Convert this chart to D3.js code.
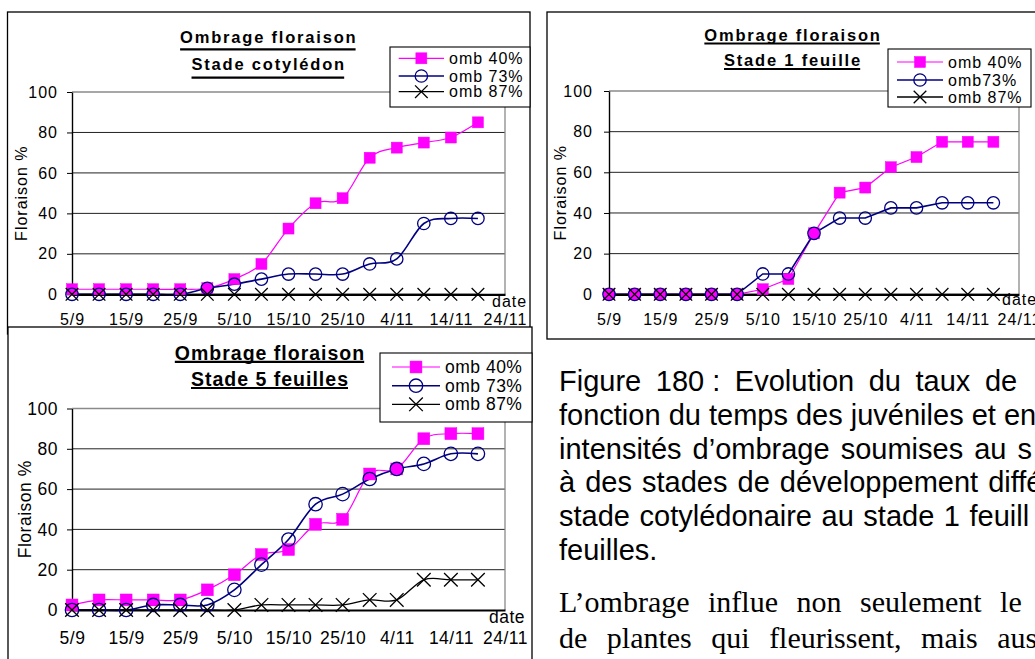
<!DOCTYPE html>
<html>
<head>
<meta charset="utf-8">
<script src="https://cdn.jsdelivr.net/npm/d3@7"></script>
<style>
  html, body { margin: 0; padding: 0; background: #fff; overflow: hidden; }
  svg { display: block; }
  text { font-family: "Liberation Sans", Arial, sans-serif; fill: #000; }
</style>
</head>
<body>
<svg id="fig" width="1035" height="659"></svg>
<script>
// ---- data -------------------------------------------------------------
const sampleDates = ["5/9", "10/9", "15/9", "20/9", "25/9", "30/9", "5/10", "10/10",
                     "15/10", "20/10", "25/10", "30/10", "4/11", "9/11", "14/11", "19/11"];
const axisDates = ["5/9", "15/9", "25/9", "5/10", "15/10", "25/10", "4/11", "14/11", "24/11"];
const yTicks = [0, 20, 40, 60, 80, 100];

// Stade cotylédon
const cotyledonOmb40 = [2.5, 2.5, 2.5, 2.5, 2.5, 3, 7.5, 15, 32.5, 45, 47.5, 67.5, 72.5, 75, 77.5, 85];
const cotyledonOmb73 = [0, 0, 0, 0, 0, 3, 5, 7.5, 10, 10, 10, 15, 17.5, 35, 37.5, 37.5];
const cotyledonOmb87 = [0, 0, 0, 0, 0, 0, 0, 0, 0, 0, 0, 0, 0, 0, 0, 0];

// Stade 1 feuille
const feuille1Omb40 = [0, 0, 0, 0, 0, 0, 2.5, 7.5, 30, 50, 52.5, 62.5, 67.5, 75, 75, 75];
const feuille1Omb73 = [0, 0, 0, 0, 0, 0, 10, 10, 30, 37.5, 37.5, 42.5, 42.5, 45, 45, 45];
const feuille1Omb87 = [0, 0, 0, 0, 0, 0, 0, 0, 0, 0, 0, 0, 0, 0, 0, 0];

// Stade 5 feuilles
const feuilles5Omb40 = [2.5, 5, 5, 5, 5, 10, 17.5, 27.5, 30, 42.5, 45, 67.5, 70, 85, 87.5, 87.5];
const feuilles5Omb73 = [0, 0, 0, 2.5, 2.5, 2.5, 10, 22.5, 35, 52.5, 57.5, 65, 70, 72.5, 77.5, 77.5];
const feuilles5Omb87 = [0, 0, 0, 0, 0, 0, 0, 2.5, 2.5, 2.5, 2.5, 5, 5, 15, 15, 15];

const legendCotyledon = ["omb 40%", "omb 73%", "omb 87%"];
const legendFeuille1 = ["omb 40%", "omb73%", "omb 87%"];
const legendFeuilles5 = ["omb 40%", "omb 73%", "omb 87%"];

const titleCotyledon = ["Ombrage floraison", "Stade cotylédon"];
const titleFeuille1 = ["Ombrage floraison", "Stade 1 feuille"];
const titleFeuilles5 = ["Ombrage floraison", "Stade 5 feuilles"];

const yAxisTitle = "Floraison %";
const xAxisTitle = "date";

const captionLines = [
  "Figure 180\u00a0: Evolution du taux de",
  "fonction du temps des juvéniles et en",
  "intensités d\u2019ombrage soumises au s",
  "à des stades de développement diffé",
  "stade cotylédonaire au stade 1 feuill",
  "feuilles."
];
const paragraphLines = [
  "L\u2019ombrage influe non seulement le",
  "de plantes qui fleurissent, mais auss"
];

// ---- drawing ------------------------------------------------------------
const svg = d3.select("#fig");
const parseDay = d3.timeParse("%d/%m");

const seriesStyle = [
  { color: "#ff00ff", width: 1.2, marker: "square" },
  { color: "#000080", width: 1.6, marker: "circle" },
  { color: "#000000", width: 1.3, marker: "cross" }
];

function drawMarker(sel, type, color, k) {
  if (type === "square") {
    const s = 11 * k;
    sel.append("rect").attr("x", -s / 2).attr("y", -s / 2).attr("width", s).attr("height", s)
      .attr("fill", color).attr("stroke", color).attr("stroke-width", 0.5);
  } else if (type === "circle") {
    sel.append("circle").attr("r", 6.2 * k).attr("fill", "none")
      .attr("stroke", color).attr("stroke-width", 1.3);
  } else {
    const h = 6.3 * k;
    sel.append("path").attr("d", `M${-h},${-h}L${h},${h}M${-h},${h}L${h},${-h}`)
      .attr("stroke", color).attr("stroke-width", 1.3).attr("fill", "none");
  }
}

function drawPanel(p) {
  const g = svg.append("g");
  const font = `${p.font}px`;

  // chart frame
  g.append("rect")
    .attr("x", p.frame[0]).attr("y", p.frame[1]).attr("width", p.frame[2]).attr("height", p.frame[3])
    .attr("fill", "#fff").attr("stroke", "#000").attr("stroke-width", 1.3);

  const x = d3.scaleTime()
    .domain([parseDay(axisDates[0]), parseDay(axisDates[axisDates.length - 1])])
    .range([p.plot.l, p.plot.r]);
  const y = d3.scaleLinear().domain([0, 100]).range([p.plot.b, p.plot.t]);

  // horizontal gridlines
  g.append("g").selectAll("line")
    .data(yTicks.filter(v => v > 0 && v < 100))
    .join("line")
    .attr("x1", p.plot.l).attr("x2", p.plot.r)
    .attr("y1", d => y(d)).attr("y2", d => y(d))
    .attr("stroke", "#222").attr("stroke-width", 1);

  // plot area border (top and right)
  g.append("path")
    .attr("d", `M${p.plot.l},${y(100)}H${p.plot.r}V${y(0)}`)
    .attr("fill", "none").attr("stroke", "#8a8a8a").attr("stroke-width", 1.3);

  // y axis
  const yAxis = g.append("g")
    .attr("transform", `translate(${p.plot.l},0)`)
    .call(d3.axisLeft(y).tickValues(yTicks).tickSize(5).tickSizeOuter(0).tickPadding(p.yPad));
  yAxis.attr("font-size", null).attr("font-family", null);
  yAxis.select(".domain").attr("stroke", "#000").attr("stroke-width", 1.4);
  yAxis.selectAll(".tick line").attr("stroke", "#000").attr("stroke-width", 1);
  yAxis.selectAll(".tick text").style("font-size", font).style("letter-spacing", `${p.ls}px`);

  // x axis
  const xAxis = g.append("g")
    .attr("transform", `translate(0,${y(0)})`)
    .call(d3.axisBottom(x)
      .tickValues(axisDates.map(parseDay))
      .tickFormat((d, i) => axisDates[i])
      .tickSize(0).tickPadding(p.xPad));
  xAxis.attr("font-size", null).attr("font-family", null);
  xAxis.select(".domain").attr("stroke", "#000").attr("stroke-width", 2.2);
  xAxis.selectAll(".tick text").style("font-size", font).style("letter-spacing", `${p.ls}px`);

  // series lines then markers
  const curve = p.smooth ? d3.curveCardinal.tension(0) : d3.curveLinear;
  const line = d3.line()
    .x((d, i) => x(parseDay(sampleDates[i])))
    .y(d => y(d))
    .curve(curve);

  p.series.forEach((vals, si) => {
    const st = seriesStyle[si];
    g.append("path").datum(vals)
      .attr("d", line)
      .attr("fill", "none").attr("stroke", st.color).attr("stroke-width", st.width);
  });
  p.series.forEach((vals, si) => {
    const st = seriesStyle[si];
    g.append("g").selectAll("g")
      .data(vals)
      .join("g")
      .attr("transform", (d, i) => `translate(${x(parseDay(sampleDates[i]))},${y(d)})`)
      .each(function () { drawMarker(d3.select(this), st.marker, st.color, p.mk); });
  });

  // axis titles
  const cy = (p.plot.t + p.plot.b) / 2;
  g.append("text")
    .attr("transform", `translate(${p.yTitleX},${cy}) rotate(-90)`)
    .attr("text-anchor", "middle").attr("dy", "0.35em")
    .style("font-size", font).style("letter-spacing", `${p.ls}px`)
    .text(yAxisTitle);
  g.append("text")
    .attr("x", p.plot.r + p.dateDx).attr("y", y(0) + p.dateDy)
    .style("font-size", font).style("letter-spacing", `${p.ls}px`)
    .text(xAxisTitle);

  // title with underlines
  const cx = p.frame[0] + p.frame[2] / 2;
  p.title.forEach((t, i) => {
    const tt = g.append("text")
      .attr("x", cx).attr("y", p.titleBase[i]).attr("text-anchor", "middle")
      .style("font-size", `${p.titleFont}px`).style("font-weight", "bold")
      .style("letter-spacing", `${p.titleLs}px`)
      .text(t);
    const bb = tt.node().getBBox();
    g.append("line")
      .attr("x1", bb.x).attr("x2", bb.x + bb.width - p.titleLs)
      .attr("y1", p.underline[i]).attr("y2", p.underline[i])
      .attr("stroke", "#000").attr("stroke-width", 2.2);
  });

  // legend
  const lg = g.append("g");
  lg.append("rect")
    .attr("x", p.legend.box[0]).attr("y", p.legend.box[1])
    .attr("width", p.legend.box[2]).attr("height", p.legend.box[3])
    .attr("fill", "#fff").attr("stroke", "#000").attr("stroke-width", 1.1);
  p.legendLabels.forEach((lab, i) => {
    const st = seriesStyle[i];
    const ry = p.legend.rows[i];
    lg.append("line")
      .attr("x1", p.legend.line[0]).attr("x2", p.legend.line[1])
      .attr("y1", ry).attr("y2", ry)
      .attr("stroke", st.color).attr("stroke-width", st.width);
    const mg = lg.append("g")
      .attr("transform", `translate(${(p.legend.line[0] + p.legend.line[1]) / 2},${ry})`);
    drawMarker(mg, st.marker, st.color, p.mk);
    lg.append("text")
      .attr("x", p.legend.textX).attr("y", ry).attr("dy", "0.35em")
      .style("font-size", font).style("letter-spacing", `${p.ls}px`)
      .text(lab);
  });
}

drawPanel({
  frame: [7.5, 12, 522.5, 322],
  plot: { l: 72, r: 505, t: 92, b: 294.3 },
  font: 16, ls: 1, mk: 1,
  titleFont: 16.5, titleLs: 1.8, titleBase: [42.7, 70], underline: [49.3, 77.7],
  title: titleCotyledon,
  legend: { box: [390, 47, 140, 60], rows: [58.3, 76, 91.7], line: [398.7, 444], textX: 449 },
  legendLabels: legendCotyledon,
  yPad: 9, xPad: 19, yTitleX: 21.5, dateDx: -13, dateDy: 12.7,
  smooth: true,
  series: [cotyledonOmb40, cotyledonOmb73, cotyledonOmb87]
});

drawPanel({
  frame: [547, 12, 492, 327],
  plot: { l: 609, r: 1019, t: 91, b: 294.3 },
  font: 16, ls: 1, mk: 1,
  titleFont: 16.5, titleLs: 1.8, titleBase: [40.5, 65.5], underline: [43.5, 69],
  title: titleFeuille1,
  legend: { box: [888, 49, 143, 58], rows: [62, 80, 97], line: [897, 943], textX: 948 },
  legendLabels: legendFeuille1,
  yPad: 11, xPad: 19, yTitleX: 560, dateDx: -17, dateDy: 10.7,
  smooth: false,
  series: [feuille1Omb40, feuille1Omb73, feuille1Omb87]
});

drawPanel({
  frame: [8, 327, 524, 345],
  plot: { l: 72, r: 505, t: 408.5, b: 610 },
  font: 17.5, ls: 0.5, mk: 1.08,
  titleFont: 19.5, titleLs: 1, titleBase: [360, 386.3], underline: [361.8, 388],
  title: titleFeuilles5,
  legend: { box: [380, 353, 152, 69], rows: [367, 385.7, 404.3], line: [392, 440], textX: 445 },
  legendLabels: legendFeuilles5,
  yPad: 9, xPad: 21.5, yTitleX: 25, dateDx: -16, dateDy: 13,
  smooth: true,
  series: [feuilles5Omb40, feuilles5Omb73, feuilles5Omb87]
});

// ---- caption and body text ---------------------------------------------
const textX = 559;
const captionSpacing = [6.5, 0, 3, 2, 1.5, 0];
captionLines.forEach((s, i) => {
  const t = svg.append("text")
    .attr("x", textX).attr("y", 391 + i * 33.8)
    .style("font-size", "29px");
  // non-breaking segments keep their natural width
  s.split(/(\u00a0\S+)/).filter(part => part.length).forEach(part => {
    t.append("tspan")
      .style("word-spacing", part.startsWith("\u00a0") ? "0px" : `${captionSpacing[i]}px`)
      .text(part);
  });
});

const paragraphSpacing = [11, 12];
paragraphLines.forEach((s, i) => {
  svg.append("text")
    .attr("x", textX).attr("y", 612 + i * 36)
    .style("font-family", "\"Liberation Serif\", \"Times New Roman\", serif")
    .style("font-size", "30px")
    .style("word-spacing", `${paragraphSpacing[i]}px`)
    .text(s);
});
</script>
</body>
</html>
